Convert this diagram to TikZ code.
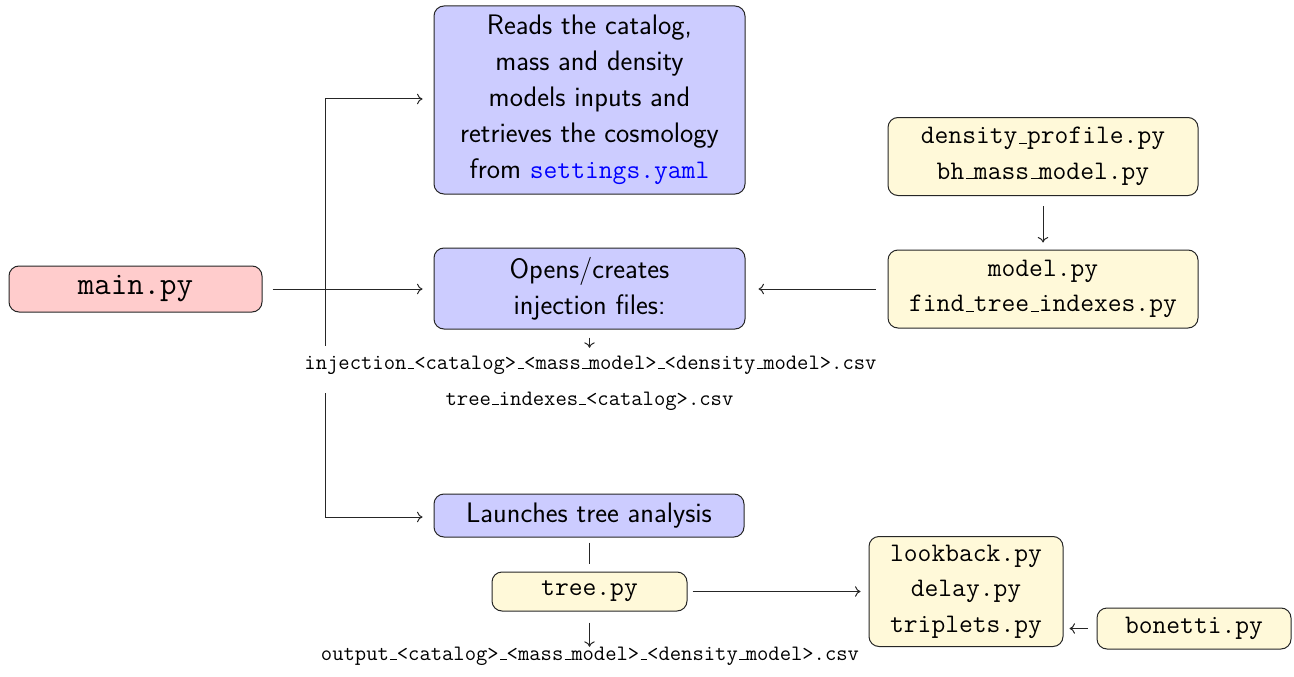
\documentclass[tikz,border=0pt]{standalone}
\usepackage{fontspec}
\usetikzlibrary{backgrounds,arrows.meta}

\definecolor{procblue}{RGB}{204,204,255}
\definecolor{mainred}{RGB}{255,204,204}
\definecolor{fileyellow}{RGB}{255,249,217}

% thin, low underscore as in classic typewriter text
\newcommand\us{\leavevmode\kern.06em\vbox{\hrule height 1.05pt width .3em}}

\tikzset{
  box/.style={draw=black!85, line width=1pt, rounded corners=10pt, align=center, inner sep=0pt},
  proc/.style={box, fill=procblue, font=\sffamily\fontsize{28.2}{36}\selectfont},
  pyfile/.style={box, fill=fileyellow, font=\ttfamily\fontsize{26.8}{35.5}\selectfont},
  mainbox/.style={box, fill=mainred, font=\ttfamily\fontsize{32}{38}\selectfont},
  outfile/.style={font=\ttfamily\fontsize{22}{26}\selectfont, inner sep=0pt, anchor=base},
  plain/.style={line width=1pt, draw=black!85},
  link/.style={plain, -{To[length=5.5pt, width=10.5pt]}},
}

\begin{document}
\begin{tikzpicture}[x=1pt, y=-1pt]
\useasboundingbox (0,0) rectangle (1294,677);

% processing steps
\node[proc, minimum width=311pt, minimum height=188pt] (reads) at (589.5,100)
  {Reads the catalog,\\ mass and density\\ models inputs and\\ retrieves the cosmology\\ from \textcolor{blue}{\ttfamily\fontsize{26.8}{36}\selectfont settings.yaml}};
\node[proc, minimum width=311pt, minimum height=81pt] (opens) at (589.5,288.5)
  {Opens/creates\\ injection files:};
\node[proc, minimum width=310pt, minimum height=43pt] (launch) at (589,515.5)
  {Launches tree analysis};

% entry point
\node[mainbox, minimum width=253pt, minimum height=46pt] (main) at (135.5,289) {main.py};

% python modules
\node[pyfile, minimum width=310pt, minimum height=78pt] (dens) at (1043,156.5)
  {density\us profile.py\\ bh\us mass\us model.py};
\node[pyfile, minimum width=310pt, minimum height=78pt] (model) at (1043,289)
  {model.py\\ find\us tree\us indexes.py};
\node[pyfile, minimum width=195pt, minimum height=39pt] (tree) at (589.5,591.5) {tree.py};
\node[pyfile, minimum width=194pt, minimum height=110pt] (look) at (966,591.5)
  {lookback.py\\ delay.py\\ triplets.py};
\node[pyfile, minimum width=194pt, minimum height=41pt] (bon) at (1194,628.5) {bonetti.py};

% produced files
\node[outfile, fill=white, text height=23pt, text depth=24pt] (inj) at (590.5,369)
  {injection\us<catalog>\us<mass\us model>\us<density\us model>.csv};
\node[outfile, text height=15pt, text depth=5pt] (idx) at (589.5,405)
  {tree\us indexes\us<catalog>.csv};
\node[outfile, text height=15pt, text depth=5pt] (out) at (590,660)
  {output\us<catalog>\us<mass\us model>\us<density\us model>.csv};

% dispatch trunk from main.py
\coordinate (ttop) at (325,99);
\coordinate (tbot) at (325,517);
\begin{scope}[on background layer]
  \draw[plain] (ttop) -- (tbot);
\end{scope}
\draw[link, shorten >=11pt] (ttop) -- (ttop -| reads.west);
\draw[link, shorten >=11pt] (tbot) -- (tbot -| launch.west);
\draw[link, shorten <=10pt, shorten >=11pt] (main.east) -- (main.east -| opens.west);

% module dependencies
\draw[link, shorten <=12pt, shorten >=13pt] (model.west) -- (model.west -| opens.east);
\draw[link, shorten <=10pt, shorten >=7pt] (dens.south) -- (model.north);
\draw[link, shorten <=8pt, shorten >=-2pt] (opens.south) -- (opens.south |- inj.north);

% tree analysis
\draw[plain, shorten <=5pt, shorten >=8pt] (tree.north |- launch.south) -- (tree.north);
\draw[link, shorten <=5pt, shorten >=8pt] (tree.east) -- (tree.east -| look.west);
\draw[link, shorten <=11pt, shorten >=-2pt] (tree.south) -- (tree.south |- out.north);
\draw[link, shorten <=9pt, shorten >=6pt] (bon.west) -- (bon.west -| look.east);
\end{tikzpicture}
\end{document}
